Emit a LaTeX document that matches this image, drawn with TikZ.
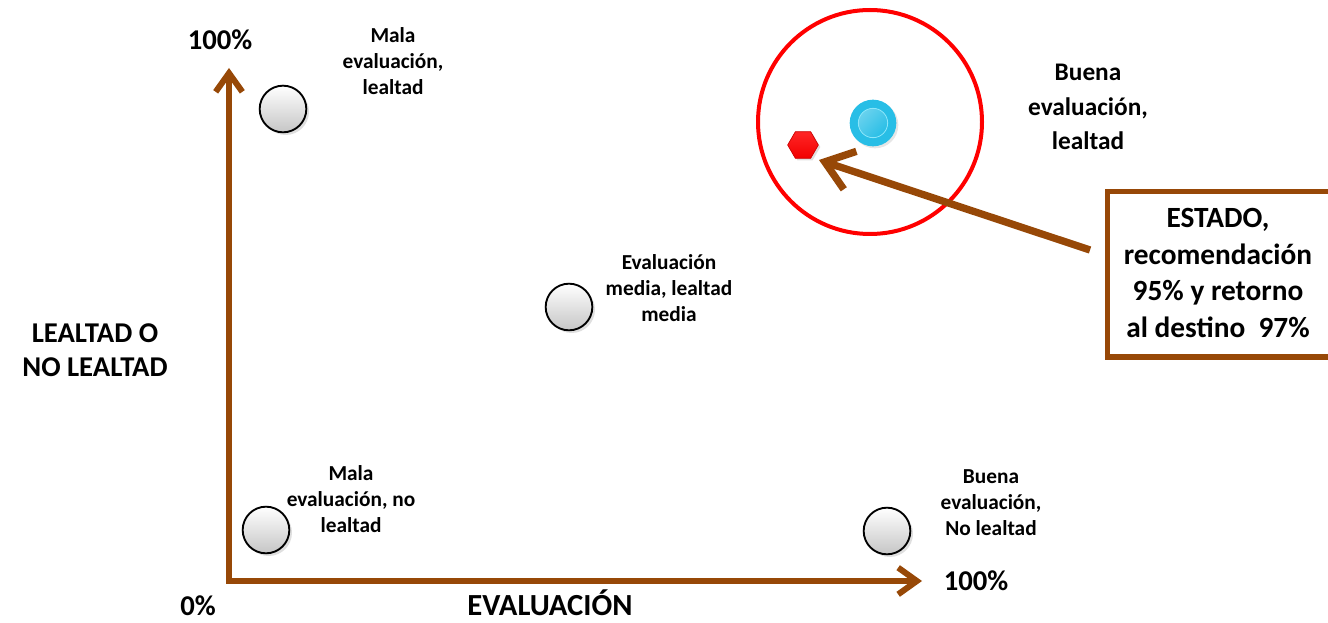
\documentclass[tikz,border=0pt]{standalone}
\usepackage{fontspec}
\setmainfont{Carlito}
\usetikzlibrary{arrows.meta,shapes.geometric,shadows}
\definecolor{brn}{RGB}{151,72,7}
\definecolor{cyanA}{RGB}{40,190,230}
\definecolor{cyanB}{RGB}{140,230,250}
\tikzset{
  axis/.style={draw=brn,line width=4.5pt,-{Straight Barb[length=14pt,width=20pt]}},
  ball/.style={circle,draw=black,line width=1.4pt,minimum size=35pt,inner sep=0pt,
    top color=white,bottom color=gray!45,drop shadow={opacity=0.25,shadow xshift=2pt,shadow yshift=-2pt}},
  small/.style={font=\fontsize{16}{19.5}\selectfont\bfseries,align=center,inner sep=0pt},
  big/.style={font=\fontsize{21.5}{25.5}\selectfont\bfseries,align=center,inner sep=0pt},
}
\begin{document}
\begin{tikzpicture}[x=0.75pt,y=-0.75pt]
\useasboundingbox (0,0) rectangle (1328,623);
% axes
\coordinate (O) at (229,581);
\coordinate (Ytop) at (229,68);
\coordinate (Xend) at (922,581);
\draw[axis] ([yshift=-2.2pt]O) -- (Ytop);
\draw[axis] ([xshift=-2.2pt]O) -- (Xend);
% axis labels
\node[big] (y100) at (220,40) {100\%};
\node[big] (x100) at (976,581) {100\%};
\node[big] (zero) at (198,606) {0\%};
\node[big,font=\fontsize{23}{26}\selectfont\bfseries] (xlab) at (550,603) {EVALUACIÓN};
\node[big] (ylab) at (95,350) {LEALTAD O\\NO LEALTAD};
% balls
\node[ball] (b1) at (283,109) {};
\node[ball] (b2) at (569,307) {};
\node[ball] (b3) at (266,530) {};
\node[ball] (b4) at (887,531) {};
% small labels
\node[small] (l1) at (393,61) {Mala\\evaluación,\\lealtad};
\node[small] (l2) at (669,288) {Evaluación\\media, lealtad\\media};
\node[small] (l3) at (351,499) {Mala\\evaluación, no\\lealtad};
\node[small] (l4) at (991,503) {Buena\\evaluación,\\No lealtad};
\node[font=\fontsize{19}{26}\selectfont\bfseries,align=center,inner sep=0pt] (l5) at (1088,107) {Buena\\evaluación,\\lealtad};
% red circle
\node[circle,draw=red,line width=3pt,minimum size=168pt,inner sep=0pt] (ring) at (870,122) {};
% blue ball
\node[circle,fill=cyanA,minimum size=35pt,inner sep=0pt,drop shadow={opacity=0.2,shadow xshift=1.5pt,shadow yshift=-1.5pt}] (blue) at (873,123) {};
\node[circle,draw=cyanB,line width=0.6pt,minimum size=22pt,inner sep=0pt,shading=axis,top color=cyanA!70!white,bottom color=cyanA,shading angle=45] (bluein) at (873,123) {};
% red hexagon
\node[regular polygon,regular polygon sides=6,minimum size=23pt,inner sep=0pt,draw=red!80!black,line width=0.5pt,top color=red!85!white,bottom color=red!95!black,drop shadow={opacity=0.25,shadow xshift=1.5pt,shadow yshift=-1.5pt}] (hex) at (803,145) {};
% box
\node[draw=brn,line width=4pt,minimum width=180pt,minimum height=124pt,inner sep=0pt,anchor=north west] (box) at (1105,189) {};
\node[big,font=\fontsize{22}{27.5}\selectfont\bfseries] (boxtxt) at (1218,273) {ESTADO,\\recomendación\\95\% y retorno\\al destino~~97\%};
% arrow
\coordinate (tail) at (1090,250);
\coordinate (tip) at (819,160);
\draw[draw=brn,line width=5.5pt,-{Straight Barb[length=20pt,width=30pt]}] (tail) -- (tip);
\end{tikzpicture}
\end{document}
